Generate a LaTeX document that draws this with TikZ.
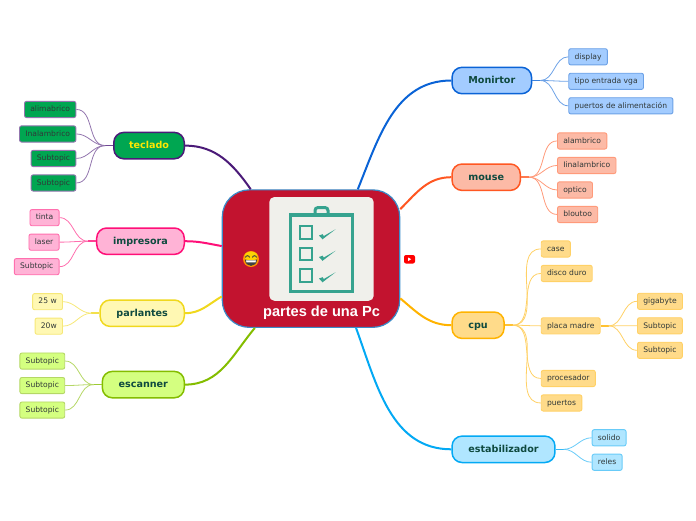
\documentclass[tikz,border=0pt]{standalone}
\usepackage{fontspec}
\setmainfont{DejaVu Sans}
\newfontfamily\rootfont{Liberation Sans}
\usetikzlibrary{positioning}
\definecolor{rootfill}{HTML}{C2132F}
\definecolor{rootline}{HTML}{3A8BC8}
\definecolor{iconfill}{HTML}{F0F0EB}
\definecolor{iconline}{HTML}{36A38F}
\definecolor{topicink}{HTML}{0F4A3F}
\definecolor{leafink}{HTML}{303838}
\definecolor{monfill}{HTML}{A3CCFF}
\definecolor{monline}{HTML}{0A63D6}
\definecolor{moufill}{HTML}{FCBAA6}
\definecolor{mouline}{HTML}{FF5722}
\definecolor{cpufill}{HTML}{FFDB8A}
\definecolor{cpuline}{HTML}{FFB300}
\definecolor{estfill}{HTML}{B0E6FF}
\definecolor{estline}{HTML}{03A9F4}
\definecolor{tecfill}{HTML}{00A651}
\definecolor{tecline}{HTML}{4B1A78}
\definecolor{impfill}{HTML}{FFB3D6}
\definecolor{impline}{HTML}{FF0F78}
\definecolor{parfill}{HTML}{FFF8B3}
\definecolor{parline}{HTML}{F0D81E}
\definecolor{escfill}{HTML}{D4FF80}
\definecolor{escline}{HTML}{84BD00}

\begin{document}
\begin{tikzpicture}[
  x=1pt, y=1pt,
  root/.style={draw=rootline, fill=rootfill, line width=1.2pt, rounded corners=27pt, minimum width=177.4pt, minimum height=137.5pt},
  topic/.style 2 args={draw=#2, fill=#1, line width=1.5pt, rounded corners=10pt, minimum height=26.4pt, inner xsep=16.3pt, inner ysep=0pt, text height=7.5pt, text depth=1.5pt, text=topicink, font=\fontsize{9.6}{11}\selectfont\bfseries},
  leaf/.style 2 args={draw=#2!60, fill=#1, line width=0.9pt, rounded corners=2pt, minimum height=16.2pt, inner xsep=5.8pt, inner ysep=0pt, text height=5.8pt, text depth=1.2pt, text=leafink, font=\fontsize{7.6}{9}\selectfont},
  branch/.style={line width=2pt, draw=#1},
  twig/.style={line width=0.8pt, draw=#1!60},
  stem/.style={line width=1.5pt, draw=#1!80}
]
\useasboundingbox (0,0) rectangle (696,-520);
\node[root] (root) at (311,-258.6) {};
\node[draw=none, fill=iconfill, rounded corners=5pt, minimum width=104.4pt, minimum height=103.7pt, above=27pt of root.south, xshift=10.5pt] (icon) {};
\node[above=4.5pt of root.south, xshift=10.5pt, text=white, font=\rootfont\fontsize{14.6}{16}\selectfont\bfseries] (title) {partes de una Pc};
% clipboard
\draw[iconline, line width=3pt, rounded corners=3pt] (315,-213) -- (315,-207.5) -- (328,-207.5) -- (328,-213);
\draw[iconline, line width=3.2pt] (290.3,-214.9) rectangle (352.7,-291.7);
\foreach \boxtop in {225,246.5,268} {
  \draw[iconline, line width=2pt] (299.7,-\boxtop-1) rectangle (312.3,-\boxtop-13.5);
  \fill[iconline] (319,-\boxtop-10.5) -- (322.6,-\boxtop-9.2) -- (323.8,-\boxtop-11) -- (335.5,-\boxtop-4.3) -- (322.5,-\boxtop-14.3) -- cycle;
}
% emoji and video mark
\fill[orange!85!yellow] (251,-259) circle (8pt);
\fill[yellow!70!orange] (251,-256.5) ellipse (6.5pt and 5pt);
\draw[black!75, line width=0.9pt] (245.5,-257.5) arc (180:0:2pt and 1.8pt);
\draw[black!75, line width=0.9pt] (252.5,-257.5) arc (180:0:2pt and 1.8pt);
\fill[black!75] (245,-259.5) .. controls (248,-260.5) and (254,-260.5) .. (257,-259.5) .. controls (257,-268) and (245,-268) .. (245,-259.5) -- cycle;
\fill[white] (246,-260.3) -- (256,-260.3) -- (255.5,-262.3) -- (246.5,-262.3) -- cycle;
\fill[red, rounded corners=2pt] (404,-255) rectangle (415,-263.5);
\fill[white] (408.2,-257.5) -- (411.2,-259.2) -- (408.2,-261) -- cycle;
% right side
\node[topic={monfill}{monline}, right=51pt of root, yshift=178.1pt] (monirtor) {Monirtor};
\node[leaf={monfill}{monline}, right=36pt of monirtor, yshift=-0.8pt] (tipo) {tipo entrada vga};
\node[leaf={monfill}{monline}, above=7.4pt of tipo.north west, anchor=south west] (display) {display};
\node[leaf={monfill}{monline}, below=7.4pt of tipo.south west, anchor=north west] (alimenta) {puertos de alimentación};

\node[topic={moufill}{mouline}, right=51pt of root, yshift=81.4pt] (mouse) {mouse};
\node[leaf={moufill}{mouline}, above right=27.7pt and 36pt of mouse.east] (alambrico) {alambrico};
\node[leaf={moufill}{mouline}, below=7.4pt of alambrico.south west, anchor=north west] (iinalambrico) {Iinalambrico};
\node[leaf={moufill}{mouline}, below=7.4pt of iinalambrico.south west, anchor=north west] (optico) {optico};
\node[leaf={moufill}{mouline}, below=7.4pt of optico.south west, anchor=north west] (bloutoo) {bloutoo};

\node[topic={cpufill}{cpuline}, right=51pt of root, yshift=-66.6pt] (cpu) {cpu};
\node[leaf={cpufill}{cpuline}, above right=67.7pt and 36pt of cpu.east] (case) {case};
\node[leaf={cpufill}{cpuline}, below=7.4pt of case.south west, anchor=north west] (disco) {disco duro};
\node[leaf={cpufill}{cpuline}, below=35.3pt of disco.south west, anchor=north west] (placa) {placa madre};
\node[leaf={cpufill}{cpuline}, below=35.5pt of placa.south west, anchor=north west] (procesador) {procesador};
\node[leaf={cpufill}{cpuline}, below=7.4pt of procesador.south west, anchor=north west] (puertos) {puertos};
\node[leaf={cpufill}{cpuline}, above right=16pt and 36.4pt of placa.east] (gigabyte) {gigabyte};
\node[leaf={cpufill}{cpuline}, below=7.4pt of gigabyte.south west, anchor=north west] (placaa) {Subtopic};
\node[leaf={cpufill}{cpuline}, below=7.4pt of placaa.south west, anchor=north west] (placab) {Subtopic};

\node[topic={estfill}{estline}, right=51pt of root, yshift=-190.7pt] (estabilizador) {estabilizador};
\node[leaf={estfill}{estline}, above right=3pt and 36pt of estabilizador.east] (solido) {solido};
\node[leaf={estfill}{estline}, below=7.4pt of solido.south west, anchor=north west] (reles) {reles};
% left side
\node[topic={tecfill}{tecline}, left=36.7pt of root, yshift=113pt, inner xsep=15.2pt, text=yellow!90!orange] (teclado) {teclado};
\node[leaf={tecfill}{tecline}, above left=27.6pt and 36.7pt of teclado.west] (alimbrico) {alimabrico};
\node[leaf={tecfill}{tecline}, below=7.4pt of alimbrico.south east, anchor=north east] (inalambrico) {Inalambrico};
\node[leaf={tecfill}{tecline}, below=7.4pt of inalambrico.south east, anchor=north east] (teca) {Subtopic};
\node[leaf={tecfill}{tecline}, below=7.4pt of teca.south east, anchor=north east] (tecb) {Subtopic};

\node[topic={impfill}{impline}, left=36.7pt of root, yshift=17.4pt] (impresora) {impresora};
\node[leaf={impfill}{impline}, above left=15pt and 36.4pt of impresora.west] (tinta) {tinta};
\node[leaf={impfill}{impline}, below=7.4pt of tinta.south east, anchor=north east] (laser) {laser};
\node[leaf={impfill}{impline}, below=7.4pt of laser.south east, anchor=north east] (impa) {Subtopic};

\node[topic={parfill}{parline}, left=36.7pt of root, yshift=-54.6pt] (parlantes) {parlantes};
\node[leaf={parfill}{parline}, above left=3pt and 36.4pt of parlantes.west] (wa) {25 w};
\node[leaf={parfill}{parline}, below=7.4pt of wa.south east, anchor=north east] (wb) {20w};

\node[topic={escfill}{escline}, left=36.7pt of root, yshift=-126pt] (escanner) {escanner};
\node[leaf={escfill}{escline}, above left=15pt and 36.4pt of escanner.west] (esca) {Subtopic};
\node[leaf={escfill}{escline}, below=7.4pt of esca.south east, anchor=north east] (escb) {Subtopic};
\node[leaf={escfill}{escline}, below=7.4pt of escb.south east, anchor=north east] (escc) {Subtopic};
% main branches
\draw[branch=monline] (root.56.4) to[out=68,in=180] (monirtor.west);
\draw[branch=mouline] (root.29.5) to[out=45,in=180] (mouse.west);
\draw[branch=cpuline] (root.-24.9) to[out=-40,in=180] (cpu.west);
\draw[branch=estline] (root.-57.6) to[out=-70,in=180] (estabilizador.west);
\draw[branch=tecline] (root.131.4) to[out=125,in=0] (teclado.east);
\draw[branch=impline] (root.172) to[out=170,in=0] (impresora.east);
\draw[branch=parline] (root.203.3) to[out=210,in=0] (parlantes.east);
\draw[branch=escline] (root.231.6) to[out=230,in=0] (escanner.east);
% stems
\foreach \from/\tone in {monirtor/monline, mouse/mouline, cpu/cpuline, placa/cpuline, estabilizador/estline} {
  \coordinate[right=8pt of \from] (\from-stem);
  \draw[stem=\tone] (\from.east) -- (\from-stem);
}
\foreach \from/\tone in {teclado/tecline, impresora/impline, parlantes/parline, escanner/escline} {
  \coordinate[left=8pt of \from] (\from-stem);
  \draw[stem=\tone] (\from.west) -- (\from-stem);
}
% leaves
\foreach \from/\to/\tone in {monirtor/display/monline, monirtor/tipo/monline, monirtor/alimenta/monline,
  mouse/alambrico/mouline, mouse/iinalambrico/mouline, mouse/optico/mouline, mouse/bloutoo/mouline,
  cpu/case/cpuline, cpu/disco/cpuline, cpu/placa/cpuline, cpu/procesador/cpuline, cpu/puertos/cpuline,
  placa/gigabyte/cpuline, placa/placaa/cpuline, placa/placab/cpuline,
  estabilizador/solido/estline, estabilizador/reles/estline}
  \draw[twig=\tone] (\from-stem) to[out=0,in=180] (\to.west);
\foreach \from/\to/\tone in {teclado/alimbrico/tecline, teclado/inalambrico/tecline, teclado/teca/tecline, teclado/tecb/tecline,
  impresora/tinta/impline, impresora/laser/impline, impresora/impa/impline,
  parlantes/wa/parline, parlantes/wb/parline,
  escanner/esca/escline, escanner/escb/escline, escanner/escc/escline}
  \draw[twig=\tone] (\from-stem) to[out=180,in=0] (\to.east);
\end{tikzpicture}
\end{document}
